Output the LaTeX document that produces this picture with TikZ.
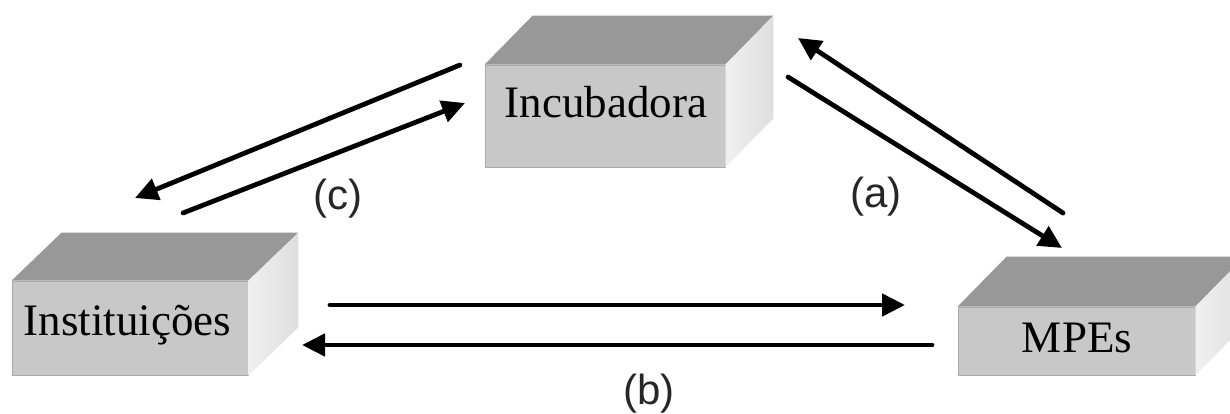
\documentclass[tikz,border=0pt]{standalone}
\usepackage{fontspec}
\setmainfont{Liberation Serif}
\newfontfamily\lblfont{Liberation Sans}
\usetikzlibrary{arrows.meta,calc}
\definecolor{frontgray}{RGB}{200,200,200}
\definecolor{topgray}{RGB}{152,152,152}
\definecolor{sidelight}{RGB}{240,240,240}
\definecolor{sidedark}{RGB}{222,222,222}
\definecolor{edgegray}{RGB}{170,170,170}
\tikzset{
  front/.style={rectangle, fill=frontgray, draw=edgegray, line width=0.8pt, inner sep=0pt},
  boxtext/.style={anchor=base, font=\fontsize{45}{54}\selectfont, text=black},
  flow/.style={line width=4.8pt, line cap=round, -{Triangle[length=23pt,width=22pt]}},
  lbl/.style={anchor=base, font=\lblfont\fontsize{42}{50}\selectfont, text=black!85},
}
\newcommand{\boxfaces}[3]{% node name, dx, dy
  \fill[topgray] (#1.north west) -- ++(#2,#3) -- ($(#1.north east)+(#2,#3)$) -- (#1.north east) -- cycle;
  \shade[left color=sidelight, right color=sidedark] (#1.north east) -- ++(#2,#3) -- ($(#1.south east)+(#2,#3)$) -- (#1.south east) -- cycle;
}
\begin{document}
\begin{tikzpicture}[x=1pt,y=-1pt]
\useasboundingbox (0,0) rectangle (1230,414);
\clip (0,0) rectangle (1230,414);
\fill[white] (0,0) rectangle (1230,414);

% boxes
\node[front, minimum width=240pt, minimum height=102pt] (incF) at (605,116) {};
\boxfaces{incF}{48}{-49}
\node[front, minimum width=236pt, minimum height=94pt] (insF) at (130,328) {};
\boxfaces{insF}{50}{-48}
\node[front, minimum width=237pt, minimum height=68pt] (mpeF) at (1076.5,341) {};
\boxfaces{mpeF}{49}{-50}

\node[boxtext] (inc) at (606,118) {Incubadora};
\node[boxtext] (ins) at (127.5,335) {Instituições};
\node[boxtext] (mpe) at (1077,352) {MPEs};

% arrow ends
\coordinate (c1s) at (460,65);  \coordinate (c1e) at (135,198);
\coordinate (c2s) at (183,213); \coordinate (c2e) at (465,103);
\coordinate (a1s) at (1063,213);\coordinate (a1e) at (798,38);
\coordinate (a2s) at (788,77);  \coordinate (a2e) at (1062,248);
\coordinate (b1s) at (330,305); \coordinate (b1e) at (905,305);
\coordinate (b2s) at (932,345); \coordinate (b2e) at (302,345);

\draw[flow] (c1s) -- (c1e);
\draw[flow] (c2s) -- (c2e);
\draw[flow] (a1s) -- (a1e);
\draw[flow] (a2s) -- (a2e);
\draw[flow] (b1s) -- (b1e);
\draw[flow] (b2s) -- (b2e);

\node[lbl] (lc) at (338,209) {(c)};
\node[lbl] (la) at (876,207) {(a)};
\node[lbl] (lb) at (649,404) {(b)};
\end{tikzpicture}
\end{document}
